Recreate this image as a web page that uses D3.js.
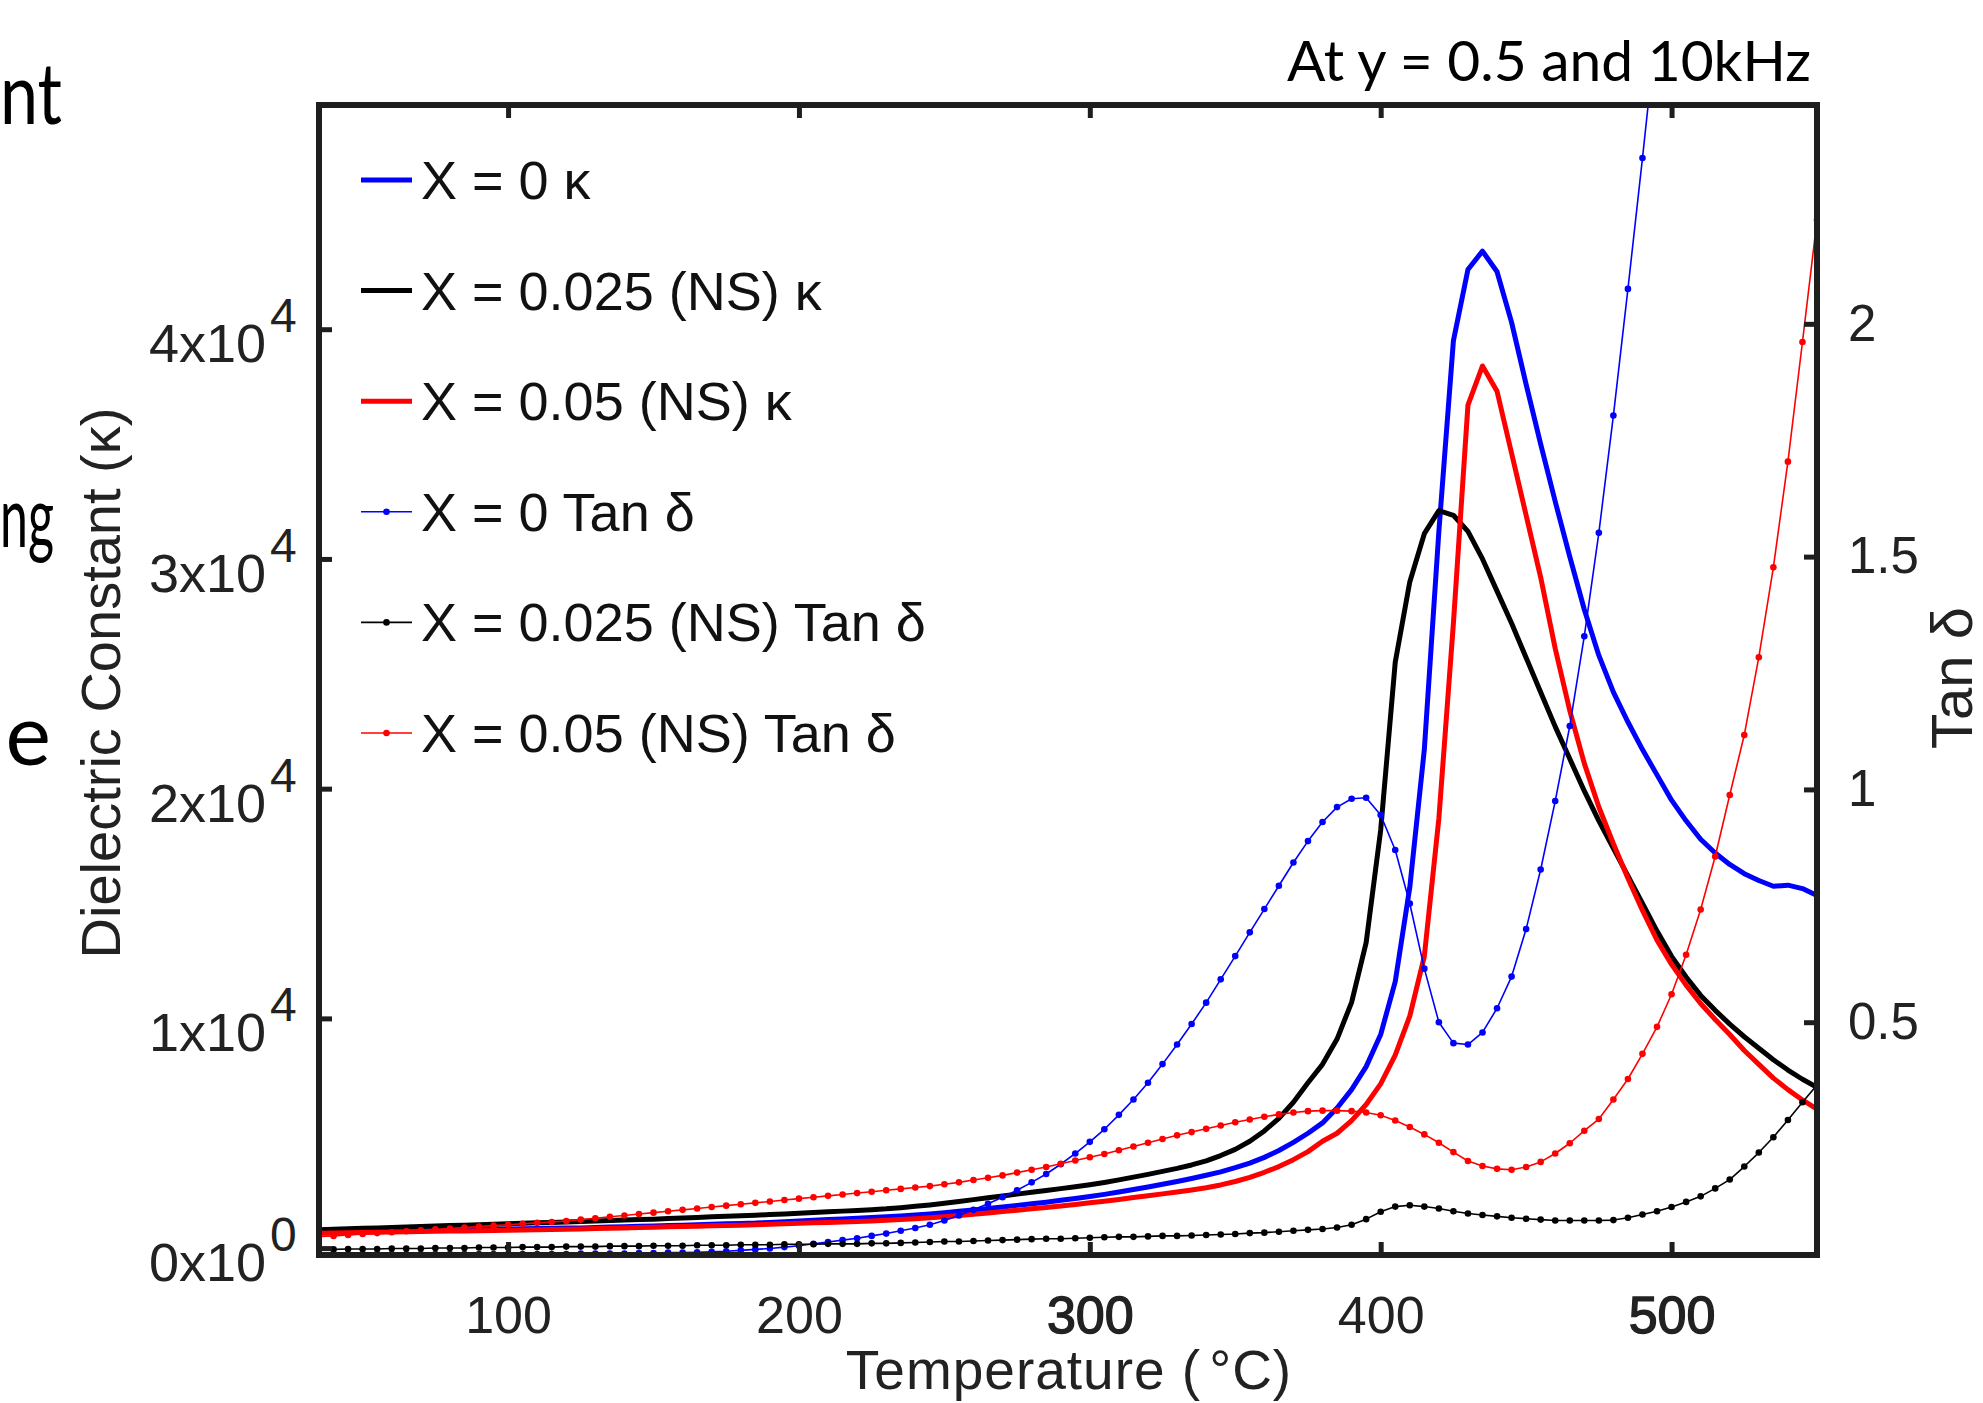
<!DOCTYPE html>
<html>
<head>
<meta charset="utf-8">
<script src="https://cdn.jsdelivr.net/npm/d3@7"></script>
<style>
  html, body { margin: 0; padding: 0; background: #ffffff; }
  svg { display: block; }
</style>
</head>
<body>
<svg id="chart" width="1983" height="1403"></svg>
<script>
// ---------------- DATA ----------------
const temps = [
  35,40,45,50,55,60,65,70,75,80,
  85,90,95,100,105,110,115,120,125,130,
  135,140,145,150,155,160,165,170,175,180,
  185,190,195,200,205,210,215,220,225,230,
  235,240,245,250,255,260,265,270,275,280,
  285,290,295,300,305,310,315,320,325,330,
  335,340,345,350,355,360,365,370,375,380,
  385,390,395,400,405,410,415,420,425,430,
  435,440,445,450,455,460,465,470,475,480,
  485,490,495,500,505,510,515,520,525,530,
  535,540,545,550
];

// Dielectric constant, x = 0
const kappaX0 = [
  700,710,720,730,740,750,760,770,780,790,
  800,810,820,830,840,850,860,870,880,895,
  920,935,950,965,980,1000,1020,1040,1060,1075,
  1090,1120,1150,1180,1210,1240,1270,1300,1330,1360,
  1400,1440,1490,1540,1600,1660,1720,1790,1860,1930,
  2000,2080,2160,2250,2340,2440,2550,2660,2780,2900,
  3030,3170,3320,3500,3700,3950,4250,4600,5000,5450,
  6100,6900,7900,9300,11600,15700,21700,31200,39500,42600,
  43400,42500,40300,37600,35000,32500,30100,27800,25800,24200,
  22900,21700,20600,19500,18600,17800,17200,16700,16300,16000,
  15750,15800,15650,15350
];

// Dielectric constant, x = 0.025 (NS)
const kappaX025 = [
  800,820,840,860,880,900,920,940,960,980,
  1000,1020,1040,1060,1080,1100,1120,1140,1160,1180,
  1200,1220,1240,1260,1285,1310,1335,1360,1385,1410,
  1435,1460,1490,1520,1550,1580,1610,1640,1675,1710,
  1760,1820,1880,1950,2030,2110,2190,2270,2350,2430,
  2510,2590,2670,2760,2860,2970,3090,3210,3340,3470,
  3620,3800,4030,4300,4650,5100,5650,6350,7200,8000,
  9100,10700,13300,18200,25500,29000,31100,32100,31900,31200,
  30000,28600,27200,25700,24200,22700,21300,19900,18600,17400,
  16200,15000,13800,12700,11800,11000,10350,9750,9200,8700,
  8200,7750,7350,7000
];

// Dielectric constant, x = 0.05 (NS)
const kappaX05 = [
  650,660,670,680,690,700,710,720,730,740,
  750,760,770,780,790,800,810,820,835,850,
  865,880,895,910,925,940,955,970,985,1000,
  1020,1040,1060,1080,1100,1120,1140,1160,1185,1210,
  1240,1280,1320,1370,1420,1470,1530,1590,1650,1710,
  1770,1830,1900,1970,2040,2120,2200,2280,2360,2440,
  2530,2630,2750,2900,3080,3300,3550,3850,4200,4650,
  5000,5550,6250,7150,8400,10100,12700,18700,27200,36700,
  38400,37300,34600,31900,29200,26100,23400,21100,19200,17600,
  16100,14700,13400,12350,11450,10650,9950,9300,8600,8000,
  7400,6900,6450,6050
];

// Tan delta, x = 0 (leaves the top of the frame after ~492 °C)
const tanX0 = [
  0.002,0.002,0.002,0.002,0.002,0.002,0.002,0.002,0.002,0.002,
  0.002,0.002,0.002,0.002,0.002,0.002,0.002,0.002,0.003,0.003,
  0.003,0.003,0.004,0.004,0.005,0.005,0.006,0.007,0.008,0.010,
  0.012,0.014,0.017,0.020,0.024,0.028,0.032,0.036,0.041,0.046,
  0.052,0.058,0.065,0.074,0.085,0.097,0.110,0.124,0.139,0.156,
  0.174,0.195,0.218,0.243,0.270,0.301,0.334,0.370,0.410,0.452,
  0.496,0.542,0.592,0.642,0.693,0.743,0.793,0.843,0.889,0.930,
  0.962,0.980,0.982,0.945,0.870,0.755,0.615,0.500,0.455,0.452,
  0.478,0.530,0.598,0.700,0.828,0.975,1.136,1.329,1.551,1.803,
  2.075,2.356,2.648,null,null,null,null,null,null,null,
  null,null,null,null
];

// Tan delta, x = 0.025 (NS)
const tanX025 = [
  0.012,0.012,0.013,0.013,0.013,0.014,0.014,0.014,0.015,0.015,
  0.015,0.016,0.016,0.016,0.017,0.017,0.017,0.018,0.018,0.018,
  0.019,0.019,0.019,0.020,0.020,0.020,0.021,0.021,0.021,0.022,
  0.022,0.022,0.023,0.023,0.023,0.024,0.024,0.024,0.025,0.025,
  0.026,0.027,0.028,0.029,0.029,0.030,0.031,0.032,0.033,0.034,
  0.035,0.035,0.036,0.037,0.038,0.039,0.039,0.040,0.041,0.041,
  0.042,0.043,0.044,0.045,0.047,0.048,0.050,0.052,0.054,0.056,
  0.059,0.065,0.077,0.093,0.104,0.107,0.104,0.100,0.094,0.089,
  0.086,0.083,0.080,0.078,0.076,0.074,0.074,0.074,0.074,0.075,
  0.080,0.087,0.094,0.103,0.114,0.126,0.143,0.162,0.190,0.220,
  0.253,0.290,0.328,0.365
];

// Tan delta, x = 0.05 (NS)
const tanX05 = [
  0.040,0.041,0.043,0.045,0.047,0.049,0.051,0.053,0.055,0.057,
  0.059,0.061,0.063,0.065,0.067,0.069,0.071,0.073,0.076,0.079,
  0.082,0.085,0.088,0.091,0.094,0.097,0.100,0.103,0.106,0.109,
  0.112,0.115,0.118,0.121,0.124,0.127,0.130,0.133,0.136,0.139,
  0.142,0.145,0.148,0.152,0.156,0.161,0.166,0.171,0.177,0.183,
  0.189,0.196,0.203,0.210,0.217,0.225,0.233,0.241,0.249,0.257,
  0.264,0.271,0.278,0.285,0.291,0.297,0.302,0.306,0.309,0.310,
  0.310,0.309,0.306,0.300,0.289,0.275,0.259,0.241,0.221,0.202,
  0.191,0.185,0.183,0.189,0.200,0.218,0.240,0.267,0.292,0.334,
  0.378,0.432,0.490,0.560,0.645,0.742,0.856,0.988,1.117,1.284,
  1.477,1.704,1.961,2.223
];

const xTicks = [100, 200, 300, 400, 500];
const kappaTicks = [0, 10000, 20000, 30000, 40000];
const tanTicks = [0.5, 1, 1.5, 2];
const legendLabels = [
  "X = 0 κ",
  "X = 0.025 (NS) κ",
  "X = 0.05 (NS) κ",
  "X = 0 Tan δ",
  "X = 0.025 (NS) Tan δ",
  "X = 0.05 (NS) Tan δ"
];

// ---------------- LAYOUT / STYLE ----------------
const W = 1983, H = 1403;
const M = { left: 319, right: 1817, top: 105, bottom: 1255 };
const chartFont = "'Liberation Sans', Arial, Helvetica, sans-serif";
const slideFont = "Lato, 'Open Sans', sans-serif";
const axisColor = "#1e1e1e";

const series = [
  { values: kappaX0,   color: "#0000ff", kind: "kappa" },
  { values: kappaX025, color: "#000000", kind: "kappa" },
  { values: kappaX05,  color: "#ff0000", kind: "kappa" },
  { values: tanX0,     color: "#0000ff", kind: "tan" },
  { values: tanX025,   color: "#000000", kind: "tan" },
  { values: tanX05,    color: "#ff0000", kind: "tan" }
];

const x  = d3.scaleLinear().domain([35, 550]).range([M.left, M.right]);
const yK = d3.scaleLinear().domain([-300, 49760]).range([M.bottom, M.top]);
const yT = d3.scaleLinear().domain([0, 2.47]).range([M.bottom, M.top]);

const svg = d3.select("#chart");
svg.append("rect").attr("width", W).attr("height", H).attr("fill", "#ffffff");

svg.append("defs").append("clipPath").attr("id", "plotClip")
  .append("rect")
  .attr("x", M.left).attr("y", M.top)
  .attr("width", M.right - M.left).attr("height", M.bottom - M.top);

// ---------------- SERIES ----------------
const plot = svg.append("g").attr("clip-path", "url(#plotClip)");

series.forEach(s => {
  const yScale = s.kind === "kappa" ? yK : yT;
  const pts = temps.map((t, i) => ({ t, v: s.values[i] })).filter(d => d.v !== null && d.v !== undefined);
  const line = d3.line().x(d => x(d.t)).y(d => yScale(d.v));
  plot.append("path")
    .datum(pts)
    .attr("fill", "none")
    .attr("stroke", s.color)
    .attr("stroke-width", s.kind === "kappa" ? 5 : 1.6)
    .attr("stroke-linejoin", "round")
    .attr("stroke-linecap", "round")
    .attr("d", line);
  if (s.kind === "tan") {
    plot.append("g").selectAll("circle")
      .data(pts)
      .join("circle")
      .attr("cx", d => x(d.t))
      .attr("cy", d => yScale(d.v))
      .attr("r", 3.3)
      .attr("fill", s.color);
  }
});

// ---------------- AXES ----------------
function styleAxis(g) {
  g.select(".domain").remove();
  g.selectAll(".tick line").attr("stroke", axisColor).attr("stroke-width", 5);
  g.selectAll(".tick text").attr("fill", "#222").attr("font-family", chartFont);
}

const gBottom = svg.append("g")
  .attr("transform", `translate(0,${M.bottom})`)
  .call(d3.axisBottom(x).tickValues(xTicks).tickSizeInner(-13).tickSizeOuter(0).tickPadding(41).tickFormat(d3.format("d")))
  .call(styleAxis);
gBottom.selectAll(".tick text").attr("font-size", 52);
gBottom.selectAll(".tick text").filter(d => d === 300 || d === 500)
  .attr("stroke", "#222").attr("stroke-width", 1.4);

svg.append("g")
  .attr("transform", `translate(0,${M.top})`)
  .call(d3.axisTop(x).tickValues(xTicks).tickSizeInner(-13).tickSizeOuter(0).tickFormat(""))
  .call(styleAxis);

svg.append("g")
  .attr("transform", `translate(${M.left},0)`)
  .call(d3.axisLeft(yK).tickValues(kappaTicks).tickSizeInner(-13).tickSizeOuter(0).tickFormat(""))
  .call(styleAxis);

const gRight = svg.append("g")
  .attr("transform", `translate(${M.right},0)`)
  .call(d3.axisRight(yT).tickValues(tanTicks).tickSizeInner(-13).tickSizeOuter(0).tickPadding(31).tickFormat(d3.format("")))
  .call(styleAxis);
gRight.selectAll(".tick text").attr("font-size", 51);

// left tick labels in "a x 10^b" form
const leftLabels = svg.append("g").attr("font-family", chartFont).attr("fill", "#222");
kappaTicks.forEach(v => {
  const exp = v === 0 ? 0 : Math.floor(Math.log10(v));
  const mant = v === 0 ? 0 : Math.round(v / Math.pow(10, exp));
  leftLabels.append("text")
    .attr("x", 266).attr("y", yK(v) + 33)
    .attr("text-anchor", "end")
    .attr("font-size", 54)
    .text(`${mant}x10`);
  leftLabels.append("text")
    .attr("x", 270).attr("y", yK(v) + 3)
    .attr("text-anchor", "start")
    .attr("font-size", 48)
    .text(`${exp}`);
});

// frame
svg.append("rect")
  .attr("x", M.left).attr("y", M.top)
  .attr("width", M.right - M.left).attr("height", M.bottom - M.top)
  .attr("fill", "none").attr("stroke", axisColor).attr("stroke-width", 6);

// axis titles
const xTitle = svg.append("text")
  .attr("x", 1069).attr("y", 1389)
  .attr("text-anchor", "middle")
  .attr("font-family", chartFont).attr("font-size", 55).attr("fill", "#222")
  .attr("letter-spacing", 1);
xTitle.append("tspan").text("Temperature (");
xTitle.append("tspan").attr("dx", 8).text("°C)");

svg.append("text")
  .attr("transform", "translate(120,683) rotate(-90)")
  .attr("text-anchor", "middle")
  .attr("font-family", chartFont).attr("font-size", 56).attr("fill", "#222")
  .text("Dielectric Constant (κ)");

svg.append("text")
  .attr("transform", "translate(1972,678) rotate(-90)")
  .attr("text-anchor", "middle")
  .attr("font-family", chartFont).attr("font-size", 58).attr("fill", "#222")
  .text("Tan δ");

// ---------------- LEGEND ----------------
const legend = svg.append("g").attr("font-family", chartFont);
series.forEach((s, i) => {
  const cy = 180 + i * 110.6;
  legend.append("line")
    .attr("x1", 361).attr("x2", 412).attr("y1", cy).attr("y2", cy)
    .attr("stroke", s.color)
    .attr("stroke-width", s.kind === "kappa" ? 5 : 1.6);
  if (s.kind === "tan") {
    legend.append("circle").attr("cx", 386.5).attr("cy", cy).attr("r", 3.3).attr("fill", s.color);
  }
  legend.append("text")
    .attr("x", 421).attr("y", cy + 19)
    .attr("font-size", 54).attr("fill", "#111")
    .text(legendLabels[i]);
});

// ---------------- SLIDE TEXT ----------------
svg.append("text")
  .attr("x", 1811).attr("y", 81)
  .attr("text-anchor", "end")
  .attr("font-family", slideFont).attr("font-size", 56).attr("fill", "#000")
  .attr("textLength", 524).attr("lengthAdjust", "spacingAndGlyphs")
  .text("At y = 0.5 and 10kHz");

const slideText = svg.append("g")
  .attr("font-family", slideFont).attr("font-size", 86).attr("fill", "#000");
slideText.append("text")
  .attr("x", 0).attr("y", 124)
  .attr("textLength", 62).attr("lengthAdjust", "spacingAndGlyphs")
  .text("nt");
slideText.append("text")
  .attr("x", 0).attr("y", 547)
  .attr("textLength", 54).attr("lengthAdjust", "spacingAndGlyphs")
  .text("ng");
slideText.append("text")
  .attr("x", 51).attr("y", 765).attr("text-anchor", "end")
  .text("e");
</script>
</body>
</html>
